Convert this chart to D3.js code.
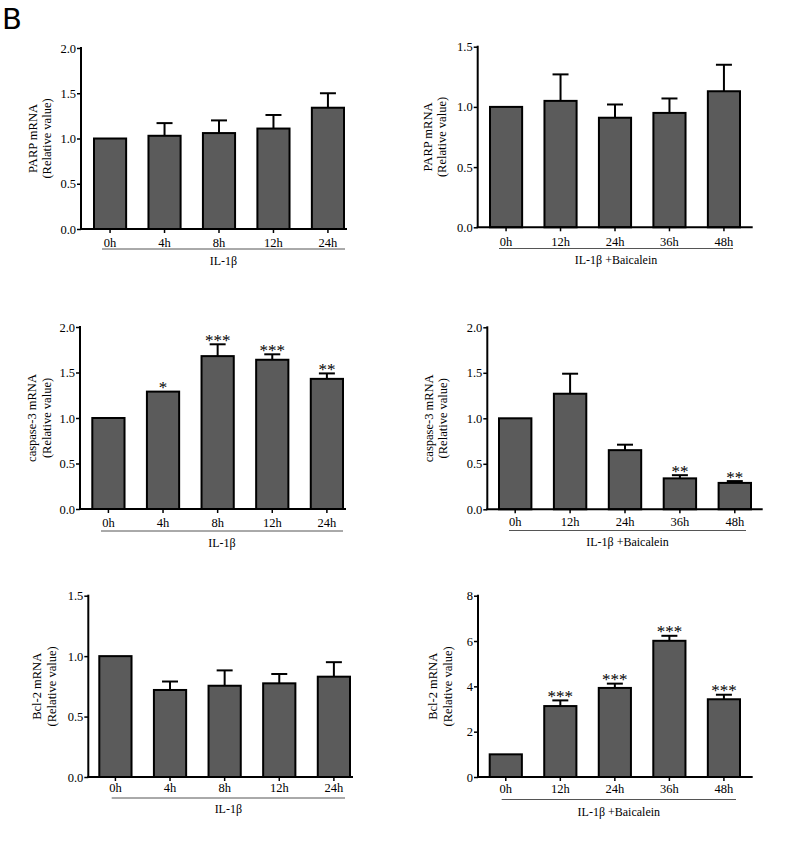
<!DOCTYPE html>
<html>
<head>
<meta charset="utf-8">
<script src="https://cdn.jsdelivr.net/npm/d3@7"></script>
<style>
  html, body { margin: 0; padding: 0; background: #fff; }
  svg { display: block; }
  text { font-family: "Liberation Serif", "Times New Roman", serif; fill: #000; }
</style>
</head>
<body>
<svg id="chart" width="800" height="846"></svg>
<script>
// ---------- DATA ----------
const timesIL = ["0h", "4h", "8h", "12h", "24h"];
const timesBai = ["0h", "12h", "24h", "36h", "48h"];

const groupIL = "IL-1β";
const groupBai = "IL-1β +Baicalein";

const parpIL_mean = [1.00, 1.03, 1.06, 1.11, 1.34];
const parpIL_sem  = [0, 0.14, 0.14, 0.15, 0.16];
const parpIL_sig  = ["", "", "", "", ""];

const parpBai_mean = [1.00, 1.05, 0.91, 0.95, 1.13];
const parpBai_sem  = [0, 0.22, 0.11, 0.12, 0.22];
const parpBai_sig  = ["", "", "", "", ""];

const casIL_mean = [1.00, 1.29, 1.68, 1.64, 1.43];
const casIL_sem  = [0, 0, 0.13, 0.06, 0.06];
const casIL_sig  = ["", "*", "***", "***", "**"];

const casBai_mean = [1.00, 1.27, 0.65, 0.34, 0.29];
const casBai_sem  = [0, 0.22, 0.06, 0.035, 0.02];
const casBai_sig  = ["", "", "", "**", "**"];

const bclIL_mean = [1.00, 0.72, 0.755, 0.775, 0.83];
const bclIL_sem  = [0, 0.07, 0.127, 0.077, 0.12];
const bclIL_sig  = ["", "", "", "", ""];

const bclBai_mean = [1.00, 3.13, 3.93, 6.01, 3.43];
const bclBai_sem  = [0, 0.25, 0.19, 0.22, 0.20];
const bclBai_sig  = ["", "***", "***", "***", "***"];

const ticks15 = [0, 0.5, 1.0, 1.5];
const ticks20 = [0, 0.5, 1.0, 1.5, 2.0];
const ticks8  = [0, 2, 4, 6, 8];

const labelPARP = ["PARP mRNA", "(Relative value)"];
const labelCas  = ["caspase-3 mRNA", "(Relative value)"];
const labelBcl  = ["Bcl-2 mRNA", "(Relative value)"];

// ---------- PANELS (data + layout) ----------
const panels = [
  { cats: timesIL, mean: parpIL_mean, sem: parpIL_sem, sig: parpIL_sig, group: groupIL, ylab: labelPARP,
    ticks: ticks20, fmt: ".1f", yMax: 2,
    L: { axisX: 81, axisEnd: 347, y0: 229, yTop: 48, barL: 94, barR: 344, tickBase: 246.5, ulY: 249, ulX: [102, 345], groupBase: 265, ylabX: [33, 47] } },
  { cats: timesBai, mean: parpBai_mean, sem: parpBai_sem, sig: parpBai_sig, group: groupBai, ylab: labelPARP,
    ticks: ticks15, fmt: ".1f", yMax: 1.5,
    L: { axisX: 477.7, axisEnd: 752.7, y0: 227.3, yTop: 46.7, barL: 490, barR: 740, tickBase: 246.5, ulY: 248.5, ulX: [499, 733], groupBase: 264, ylabX: [428, 442] } },
  { cats: timesIL, mean: casIL_mean, sem: casIL_sem, sig: casIL_sig, group: groupIL, ylab: labelCas,
    ticks: ticks20, fmt: ".1f", yMax: 2,
    L: { axisX: 80, axisEnd: 346, y0: 509, yTop: 327, barL: 92.3, barR: 343, tickBase: 526.5, ulY: 531, ulX: [101, 343], groupBase: 546.5, ylabX: [32, 46.7] } },
  { cats: timesBai, mean: casBai_mean, sem: casBai_sem, sig: casBai_sig, group: groupBai, ylab: labelCas,
    ticks: ticks20, fmt: ".1f", yMax: 2,
    L: { axisX: 487.3, axisEnd: 762.7, y0: 509.3, yTop: 327.3, barL: 499, barR: 751, tickBase: 526.5, ulY: 530.5, ulX: [509, 746], groupBase: 546, ylabX: [429.3, 442.7] } },
  { cats: timesIL, mean: bclIL_mean, sem: bclIL_sem, sig: bclIL_sig, group: groupIL, ylab: labelBcl,
    ticks: ticks15, fmt: ".1f", yMax: 1.5,
    L: { axisX: 88.3, axisEnd: 353, y0: 777, yTop: 595.7, barL: 99.3, barR: 350, tickBase: 792, ulY: 798, ulX: [111.7, 345], groupBase: 813, ylabX: [36.7, 51.7] } },
  { cats: timesBai, mean: bclBai_mean, sem: bclBai_sem, sig: bclBai_sig, group: groupBai, ylab: labelBcl,
    ticks: ticks8, fmt: "d", yMax: 8,
    L: { axisX: 478, axisEnd: 752.7, y0: 777, yTop: 595.7, barL: 489.7, barR: 740, tickBase: 793, ulY: 799.5, ulX: [501.7, 736], groupBase: 815.5, ylabX: [433.3, 448.3] } }
];

const svg = d3.select("#chart");
const barFill = "#5b5b5b";
const tickFont = 12.5;

// Panel label
svg.append("text")
  .attr("x", 2).attr("y", 29)
  .style("font-family", "'DejaVu Sans', sans-serif")
  .style("font-size", "29px")
  .text("B");

panels.forEach(p => {
  const L = p.L;
  const g = svg.append("g");
  const x = d3.scaleBand().domain(p.cats).range([L.barL, L.barR]).paddingInner(0.41).paddingOuter(0);
  const y = d3.scaleLinear().domain([0, p.yMax]).range([L.y0, L.yTop]);

  const rows = p.cats.map((c, i) => ({ c, m: p.mean[i], s: p.sem[i], sig: p.sig[i] }));

  // bars
  g.selectAll("rect.bar").data(rows).join("rect")
    .attr("class", "bar")
    .attr("x", d => x(d.c))
    .attr("y", d => y(d.m))
    .attr("width", x.bandwidth())
    .attr("height", d => y(0) - y(d.m))
    .attr("fill", barFill)
    .attr("stroke", "#000")
    .attr("stroke-width", 2);

  // error bars (upper only)
  const eb = rows.filter(d => d.s > 0);
  g.selectAll("line.err").data(eb).join("line")
    .attr("class", "err")
    .attr("x1", d => x(d.c) + x.bandwidth() / 2)
    .attr("x2", d => x(d.c) + x.bandwidth() / 2)
    .attr("y1", d => y(d.m))
    .attr("y2", d => y(d.m + d.s))
    .attr("stroke", "#000").attr("stroke-width", 2);
  g.selectAll("line.cap").data(eb).join("line")
    .attr("class", "cap")
    .attr("x1", d => x(d.c) + x.bandwidth() / 2 - 8)
    .attr("x2", d => x(d.c) + x.bandwidth() / 2 + 8)
    .attr("y1", d => y(d.m + d.s))
    .attr("y2", d => y(d.m + d.s))
    .attr("stroke", "#000").attr("stroke-width", 2);

  // significance stars
  g.selectAll("text.sig").data(rows.filter(d => d.sig)).join("text")
    .attr("class", "sig")
    .attr("x", d => x(d.c) + x.bandwidth() / 2)
    .attr("y", d => y(d.m + d.s) + 1.5)
    .attr("text-anchor", "middle")
    .attr("fill", "#000")
    .style("font-size", "17px")
    .text(d => d.sig);

  // y axis
  const yAxis = d3.axisLeft(y).tickValues(p.ticks).tickSize(4).tickPadding(1)
    .tickFormat(d3.format(p.fmt));
  const ya = g.append("g").attr("transform", `translate(${L.axisX},0)`).call(yAxis);
  ya.select(".domain").remove();
  ya.selectAll(".tick line").attr("stroke", "#000").attr("stroke-width", 1.5);
  ya.selectAll(".tick text").style("font-size", tickFont + "px")
    .style("font-family", "'Liberation Serif', serif").attr("fill", "#000");
  g.append("line").attr("x1", L.axisX).attr("x2", L.axisX)
    .attr("y1", L.yTop - 1).attr("y2", L.y0)
    .attr("stroke", "#000").attr("stroke-width", 2);

  // x axis
  const pad = (L.tickBase - L.y0) - 0.71 * tickFont - 4;
  const xAxis = d3.axisBottom(x).tickSize(4).tickPadding(pad);
  const xa = g.append("g").attr("transform", `translate(0,${L.y0})`).call(xAxis);
  xa.select(".domain").remove();
  xa.selectAll(".tick line").attr("stroke", "#000").attr("stroke-width", 1.5);
  xa.selectAll(".tick text").style("font-size", tickFont + "px")
    .style("font-family", "'Liberation Serif', serif").attr("fill", "#000");
  g.append("line").attr("x1", L.axisX - 1).attr("x2", L.axisEnd)
    .attr("y1", L.y0).attr("y2", L.y0)
    .attr("stroke", "#000").attr("stroke-width", 2);

  // group underline + label
  g.append("line").attr("x1", L.ulX[0]).attr("x2", L.ulX[1])
    .attr("y1", L.ulY).attr("y2", L.ulY)
    .attr("stroke", "#555").attr("stroke-width", 1);
  g.append("text")
    .attr("x", (L.ulX[0] + L.ulX[1]) / 2)
    .attr("y", L.groupBase)
    .attr("text-anchor", "middle")
    .style("font-size", "12px")
    .text(p.group);

  // y label (two lines, rotated)
  const cy = (L.y0 + L.yTop) / 2;
  p.ylab.forEach((t, i) => {
    g.append("text")
      .attr("transform", `translate(${L.ylabX[i]},${cy}) rotate(-90)`)
      .attr("text-anchor", "middle")
      .attr("dominant-baseline", "central")
      .style("font-size", "12.5px")
      .text(t);
  });
});
</script>
</body>
</html>
